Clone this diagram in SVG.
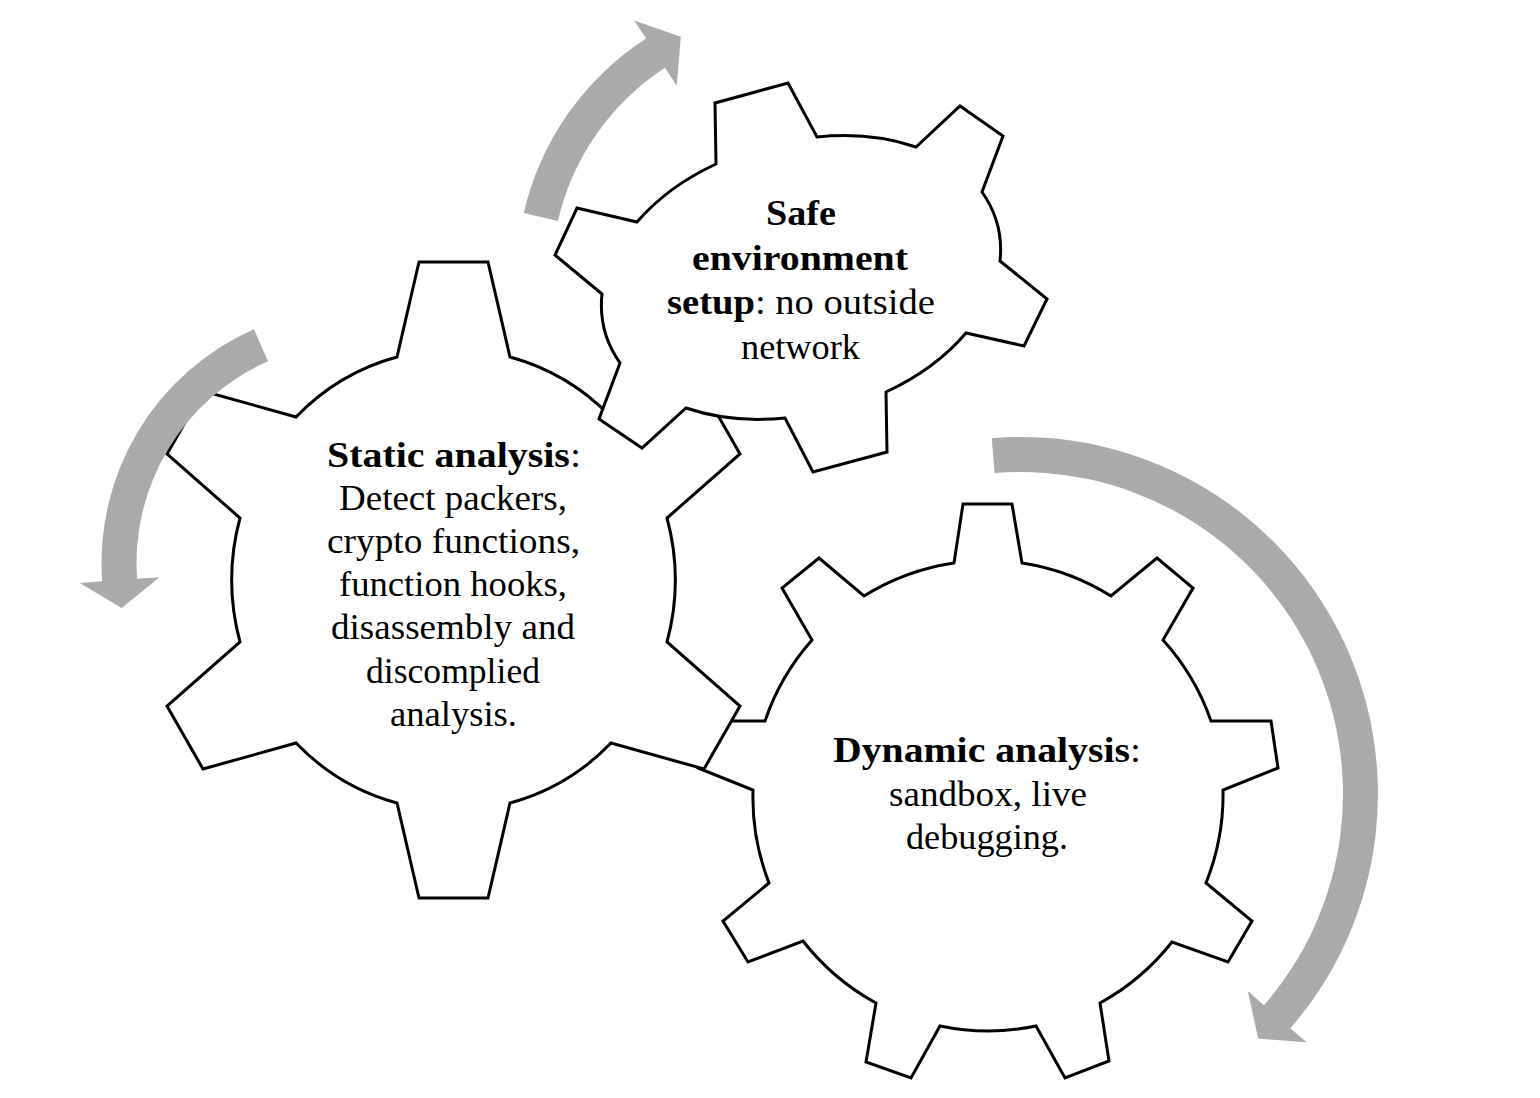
<svg xmlns="http://www.w3.org/2000/svg" width="1540" height="1098" viewBox="0 0 1540 1098">
<style>
.gear{fill:#ffffff;stroke:#000000;stroke-width:3;stroke-linejoin:miter}
.arrow{fill:#aaaaaa;stroke:none}
text{font-family:"Liberation Serif","Times New Roman",serif;font-size:36px;fill:#000000}
.b{font-weight:bold}
</style>
<rect width="1540" height="1098" fill="#ffffff"/>
<g id="gear-dynamic">
<path class="gear" d="M954,563 L963,504 L1012,504 L1022,563 A236 236 0 0 1 1111,596 L1157,558 L1193,588 L1163,640 A236 236 0 0 1 1211,721 L1271,721 L1278,768 L1223,790 A236 236 0 0 1 1206,883 L1252,921 L1228,962 L1172,942 A236 236 0 0 1 1100,1003 L1109,1061 L1065,1078 L1036,1026 A236 236 0 0 1 940,1026 L911,1078 L866,1062 L876,1003 A236 236 0 0 1 803,941 L748,962 L723,921 L769,883 A236 236 0 0 1 753,790 L698,768 L705,721 L765,721 A236 236 0 0 1 812,640 L782,588 L819,558 L864,596 A236 236 0 0 1 954,563 Z"/>
<text x="833" y="762" textLength="308" lengthAdjust="spacingAndGlyphs"><tspan class="b">Dynamic analysis</tspan>:</text>
<text x="889" y="806" textLength="198" lengthAdjust="spacingAndGlyphs">sandbox, live</text>
<text x="906" y="849" textLength="162" lengthAdjust="spacingAndGlyphs">debugging.</text>
</g>
<g id="gear-static">
<path class="gear" d="M397,357 L419,262 L488,262 L510,357 A222 230 0 0 1 611,417 L704,391 L740,454 L667,518 A222 230 0 0 1 667,642 L740,706 L704,769 L611,743 A222 230 0 0 1 510,803 L488,898 L419,898 L397,803 A222 230 0 0 1 296,743 L203,769 L167,706 L240,642 A222 230 0 0 1 240,518 L167,454 L203,391 L296,417 A222 230 0 0 1 397,357 Z"/>
<text x="327" y="467" textLength="254" lengthAdjust="spacingAndGlyphs"><tspan class="b">Static analysis</tspan>:</text>
<text x="339" y="510" textLength="228" lengthAdjust="spacingAndGlyphs">Detect packers,</text>
<text x="327" y="553" textLength="253" lengthAdjust="spacingAndGlyphs">crypto functions,</text>
<text x="339" y="596" textLength="228" lengthAdjust="spacingAndGlyphs">function hooks,</text>
<text x="331" y="639" textLength="244" lengthAdjust="spacingAndGlyphs">disassembly and</text>
<text x="366" y="683" textLength="174" lengthAdjust="spacingAndGlyphs">discomplied</text>
<text x="390" y="726" textLength="127" lengthAdjust="spacingAndGlyphs">analysis.</text>
</g>
<g id="gear-safe">
<path class="gear" d="M716,164 L715,103 L788,83 L817,137 A201 140 -15 0 1 916,147 L960,106 L1003,136 L982,192 A201 140 -15 0 1 1000,261 L1047,299 L1024,346 L966,333 A201 140 -15 0 1 886,392 L887,452 L813,472 L785,418 A201 140 -15 0 1 686,408 L642,448 L599,419 L620,363 A201 140 -15 0 1 602,294 L555,255 L577,208 L637,222 A201 140 -15 0 1 716,164 Z"/>
<text x="766" y="225" textLength="70" lengthAdjust="spacingAndGlyphs" class="b">Safe</text>
<text x="692" y="270" textLength="216" lengthAdjust="spacingAndGlyphs" class="b">environment</text>
<text x="667" y="314" textLength="268" lengthAdjust="spacingAndGlyphs"><tspan class="b">setup</tspan>: no outside</text>
<text x="741" y="359" textLength="119" lengthAdjust="spacingAndGlyphs">network</text>
</g>
<g id="connectors">
<path id="arrow-safe" class="arrow" d="M523.8,213 A284.5 284.5 0 0 1 646.05,38.4 L634.3,20.4 L680.8,36.8 L676.8,85.8 L665.1,67.75 A249.5 249.5 0 0 0 557.9,220.9 Z"/>
<path id="arrow-static" class="arrow" d="M253.9,329.2 A255.5 255.5 0 0 0 102.2,581.3 L79.7,582.9 L121.6,607.9 L159.5,577.2 L137.1,578.8 A220.5 220.5 0 0 1 268,361.25 Z"/>
<path id="arrow-dynamic" class="arrow" d="M991.75,438.2 A357 357 0 0 1 1290.4,1028.2 L1306.7,1042.3 L1258.2,1038.6 L1247.8,991.1 L1264,1005.25 A322 322 0 0 0 994.6,473.1 Z"/>
</g>
</svg>
